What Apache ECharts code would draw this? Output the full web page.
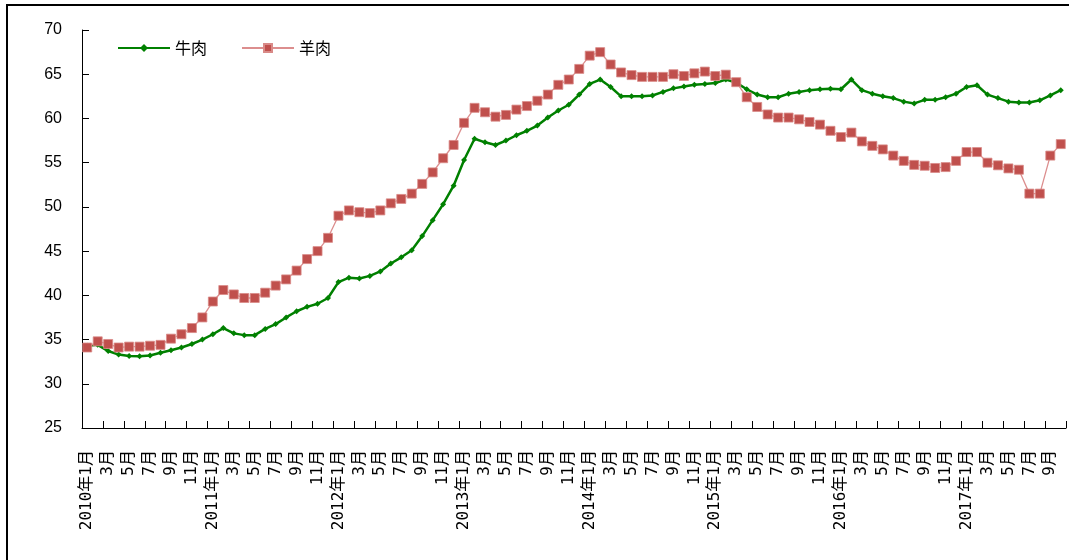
<!DOCTYPE html>
<html>
<head>
<meta charset="utf-8">
<script src="https://cdn.jsdelivr.net/npm/echarts@6/dist/echarts.min.js"></script>
<style>html,body{margin:0;padding:0;background:#fff;}#c{width:1069px;height:560px;}</style>
</head>
<body>
<div id="c"></div>
<script>
// Years and months covered (2010年1月 – 2017年10月)
const years = [2010, 2011, 2012, 2013, 2014, 2015, 2016, 2017];
const lastYearMonths = 10;

// 牛肉 (beef) monthly price
const beef = [
  34.3, 34.4, 33.7, 33.3, 33.15, 33.1, 33.2, 33.5, 33.8, 34.1, 34.5, 35.0,
  35.6, 36.3, 35.7, 35.5, 35.5, 36.2, 36.75, 37.5, 38.2, 38.7, 39.05, 39.7,
  41.5, 42.0, 41.9, 42.2, 42.7, 43.6, 44.3, 45.1, 46.7, 48.5, 50.3, 52.4,
  55.3, 57.7, 57.3, 57.0, 57.5, 58.1, 58.6, 59.2, 60.1, 60.9, 61.55, 62.7,
  63.9, 64.4, 63.55, 62.5, 62.5, 62.5, 62.6, 63.0, 63.4, 63.6, 63.8, 63.9,
  64.0, 64.4, 64.05, 63.3, 62.7, 62.4, 62.4, 62.8, 63.0, 63.2, 63.3, 63.35,
  63.3, 64.4, 63.2, 62.8, 62.5, 62.3, 61.9, 61.7, 62.1, 62.1, 62.4, 62.8,
  63.55, 63.75, 62.7, 62.3, 61.9, 61.8, 61.8, 62.05, 62.6, 63.2
];

// 羊肉 (mutton) monthly price
const mutton = [
  34.1, 34.8, 34.5, 34.1, 34.2, 34.2, 34.3, 34.4, 35.1, 35.6, 36.3, 37.5,
  39.3, 40.6, 40.1, 39.7, 39.7, 40.3, 41.1, 41.8, 42.8, 44.1, 45.0, 46.5,
  49.0, 49.6, 49.4, 49.3, 49.6, 50.4, 50.9, 51.5, 52.6, 53.9, 55.5, 57.0,
  59.5, 61.2, 60.7, 60.2, 60.4, 61.0, 61.4, 62.0, 62.7, 63.8, 64.4, 65.6,
  67.1, 67.5, 66.1, 65.2, 64.9, 64.7, 64.7, 64.7, 65.0, 64.8, 65.1, 65.3,
  64.8, 64.95, 64.1, 62.4, 61.3, 60.45, 60.1, 60.1, 59.9, 59.6, 59.3, 58.6,
  57.9, 58.4, 57.4, 56.9, 56.5, 55.8, 55.2, 54.75, 54.65, 54.4, 54.5, 55.2,
  56.2, 56.2, 55.0, 54.7, 54.35, 54.2, 51.5, 51.5, 55.8, 57.1
];

// Y axis tick values
const yTicks = [25, 30, 35, 40, 45, 50, 55, 60, 65, 70];

const categories = [];
years.forEach((y, yi) => {
  const n = (yi === years.length - 1) ? lastYearMonths : 12;
  for (let m = 1; m <= n; m++) {
    categories.push(m === 1 ? (y + '年1月') : (m + '月'));
  }
});

const chart = echarts.init(document.getElementById('c'), null, {renderer: 'canvas'});
chart.setOption({
  backgroundColor: '#fff',
  animation: false,
  graphic: [{
    type: 'rect',
    shape: {x: 7, y: 5, width: 1080, height: 600},
    style: {fill: 'none', stroke: '#000', lineWidth: 2},
    silent: true
  }],
  legend: {
    left: 112,
    top: 35,
    itemWidth: 52,
    itemHeight: 10,
    itemGap: 34,
    textStyle: {fontSize: 16, color: '#000', fontFamily: 'Noto Sans CJK SC'},
    data: ['牛肉', '羊肉']
  },
  grid: {left: 82, right: 3, top: 30, bottom: 132, containLabel: false},
  xAxis: {
    type: 'category',
    data: categories,
    boundaryGap: true,
    axisLine: {lineStyle: {color: '#000', width: 1}},
    axisTick: {show: true, inside: true, length: 7, interval: 1, lineStyle: {color: '#000'}},
    axisLabel: {
      interval: 1,
      rotate: 90,
      margin: 22,
      fontSize: 16,
      color: '#000',
      fontFamily: '"DejaVu Sans Mono", "Noto Sans CJK SC"'
    },
    splitLine: {show: false}
  },
  yAxis: {
    type: 'value',
    min: yTicks[0],
    max: yTicks[yTicks.length - 1],
    interval: 5,
    axisLine: {show: true, lineStyle: {color: '#000', width: 1}},
    axisTick: {show: true, inside: true, length: 7, lineStyle: {color: '#000'}},
    axisLabel: {fontSize: 16, color: '#000', margin: 20, fontFamily: 'Liberation Sans'},
    splitLine: {show: false}
  },
  series: [
    {
      name: '牛肉',
      type: 'line',
      data: beef,
      symbol: 'diamond',
      symbolSize: 6,
      showAllSymbol: true,
      lineStyle: {color: '#008000', width: 2.5},
      itemStyle: {color: '#008000'},
      z: 2
    },
    {
      name: '羊肉',
      type: 'line',
      data: mutton,
      symbol: 'rect',
      symbolSize: 9,
      showAllSymbol: true,
      lineStyle: {color: '#dc8e8e', width: 1.3},
      itemStyle: {color: '#c0504d', borderColor: '#d98a88', borderWidth: 0.8},
      z: 3
    }
  ]
});
</script>
</body>
</html>
